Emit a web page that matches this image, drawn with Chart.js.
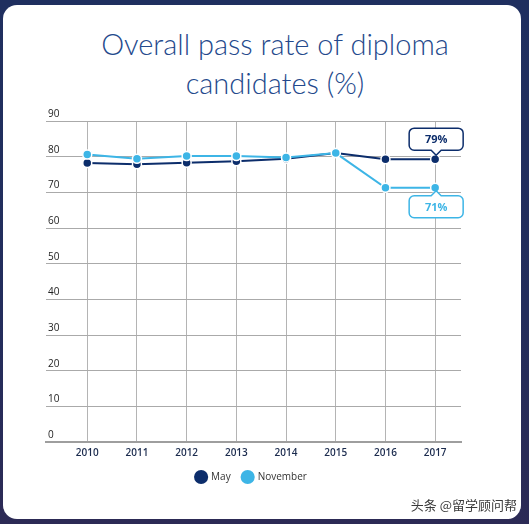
<!DOCTYPE html>
<html>
<head>
<meta charset="utf-8">
<script src="https://cdn.jsdelivr.net/npm/chart.js@4/dist/chart.umd.min.js"></script>
<style>
  html, body { margin: 0; padding: 0; width: 529px; height: 524px; overflow: hidden; }
  body { background: linear-gradient(180deg, #1f2f5f 0%, #232d5c 60%, #2c2a55 100%); position: relative; }
  #card { position: absolute; left: 3px; top: 5px; width: 518px; height: 514px; background: #fff; border-radius: 14px; }
  #title { position: absolute; left: 20px; width: 510px; top: 24px; text-align: center;
           font-family: Lato, "Open Sans", sans-serif; font-weight: 300; font-size: 29px; line-height: 39px; color: #24498c; }
  #wrap { position: absolute; left: 0; top: 0; width: 529px; height: 524px; }
  #mark { position: absolute; right: 12px; top: 495px; font-family: "Noto Sans CJK SC", sans-serif; font-size: 13px;
          color: #3a3a3a; text-shadow: 0 0 2px #fff; }
</style>
</head>
<body>
<div id="card"></div>
<div id="title">Overall pass rate of diploma<br>candidates (%)</div>
<div id="wrap"><canvas id="chart" width="529" height="524"></canvas></div>
<div id="mark">头条 @留学顾问帮</div>
<script>
// values
const years = [2010, 2011, 2012, 2013, 2014, 2015, 2016, 2017];
const mayRates = [78.2, 77.9, 78.3, 78.7, 79.4, 81.0, 79.3, 79.3];
const novemberRates = [80.6, 79.4, 80.2, 80.2, 79.8, 81.0, 71.3, 71.3];
const yTicks = [0, 10, 20, 30, 40, 50, 60, 70, 80, 90];
const seriesNames = ["May", "November"];
const calloutText = ["79%", "71%"];

const navy = "#0c2d6b";
const sky = "#3db5e6";

// speech-bubble labels on the last point of each series
const calloutPlugin = {
  id: "callouts",
  afterDatasetsDraw(chart) {
    const ctx = chart.ctx;
    const specs = [
      { ds: 0, text: calloutText[0], color: navy, above: true },
      { ds: 1, text: calloutText[1], color: sky, above: false },
    ];
    specs.forEach(s => {
      const meta = chart.getDatasetMeta(s.ds);
      const pt = meta.data[meta.data.length - 1];
      const w = 54, h = 22, r = 5, n = 5;
      const cx = pt.x + 1;
      const x0 = cx - w / 2, x1 = cx + w / 2;
      const y0 = s.above ? pt.y - 9 - h : pt.y + 8;
      const y1 = y0 + h;
      ctx.save();
      ctx.beginPath();
      ctx.moveTo(x0 + r, y0);
      if (!s.above) { ctx.lineTo(cx - n, y0); ctx.lineTo(cx, y0 - n); ctx.lineTo(cx + n, y0); }
      ctx.lineTo(x1 - r, y0);
      ctx.arcTo(x1, y0, x1, y0 + r, r);
      ctx.lineTo(x1, y1 - r);
      ctx.arcTo(x1, y1, x1 - r, y1, r);
      if (s.above) { ctx.lineTo(cx + n, y1); ctx.lineTo(cx, y1 + n); ctx.lineTo(cx - n, y1); }
      ctx.lineTo(x0 + r, y1);
      ctx.arcTo(x0, y1, x0, y1 - r, r);
      ctx.lineTo(x0, y0 + r);
      ctx.arcTo(x0, y0, x0 + r, y0, r);
      ctx.closePath();
      ctx.fillStyle = "#fff";
      ctx.fill();
      ctx.lineWidth = 1.5;
      ctx.strokeStyle = s.color;
      ctx.stroke();
      ctx.fillStyle = s.color;
      ctx.font = "bold 11px 'Open Sans', sans-serif";
      ctx.textAlign = "center";
      ctx.textBaseline = "middle";
      ctx.fillText(s.text, cx, (y0 + y1) / 2 + 1);
      ctx.restore();
    });
  }
};

const makeSet = (label, values, color, order) => ({
  label,
  data: years.map((x, i) => ({ x, y: values[i] })),
  borderColor: color,
  backgroundColor: color,
  pointBackgroundColor: color,
  pointBorderColor: "#fff",
  pointBorderWidth: 1.5,
  pointRadius: 4.5,
  borderWidth: 2,
  tension: 0,
  order,
});

new Chart(document.getElementById("chart"), {
  type: "line",
  data: {
    datasets: [
      makeSet(seriesNames[0], mayRates, navy, 2),
      makeSet(seriesNames[1], novemberRates, sky, 1),
    ],
  },
  options: {
    responsive: false,
    animation: false,
    layout: { padding: { left: 42, right: 68, top: 121, bottom: 32 } },
    scales: {
      x: {
        type: "linear",
        min: 2009.17,
        max: 2017.52,
        afterBuildTicks: axis => { axis.ticks = years.map(v => ({ value: v })); },
        afterFit: axis => { axis.height = 18; },
        grid: { color: "#b4b4b4", lineWidth: 1, drawTicks: false },
        border: { display: true, color: "#9e9e9e", width: 2 },
        ticks: {
          padding: 5,
          color: "#1b2b4e",
          font: { family: "'Open Sans', sans-serif", size: 10, weight: "600" },
          callback: v => String(v),
        },
      },
      y: {
        min: 0,
        max: 90,
        afterBuildTicks: axis => { axis.ticks = yTicks.map(v => ({ value: v })); },
        grid: { color: "#aaaaaa", lineWidth: 1, drawTicks: false },
        border: { display: false },
        ticks: {
          mirror: true,
          padding: 2,
          labelOffset: -7,
          color: "#222",
          font: { family: "'Open Sans', sans-serif", size: 10 },
        },
      },
    },
    plugins: {
      title: { display: false },
      tooltip: { enabled: false },
      legend: {
        position: "bottom",
        labels: {
          usePointStyle: true,
          pointStyle: "circle",
          padding: 12,
          color: "#333",
          font: { family: "'Open Sans', sans-serif", size: 10 },
          sort: (a, b) => a.datasetIndex - b.datasetIndex,
          generateLabels(chart) {
            const items = Chart.defaults.plugins.legend.labels.generateLabels(chart);
            items.forEach(it => { it.strokeStyle = it.fillStyle; it.lineWidth = 0; });
            return items;
          },
        },
      },
    },
  },
  plugins: [calloutPlugin],
});
</script>
</body>
</html>
